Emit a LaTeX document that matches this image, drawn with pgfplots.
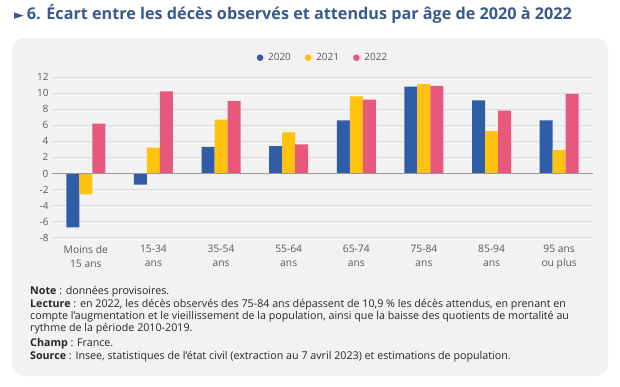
\documentclass[border=0pt]{standalone}
\usepackage{pgfplots}
\pgfplotsset{compat=1.18}
\usepackage{fontspec}
\setmainfont{Open Sans}
\newfontfamily\dejavu{DejaVu Sans}
\pgfdeclarelayer{background}
\pgfsetlayers{background,main}
\definecolor{c20}{HTML}{2F5DA8}
\definecolor{c21}{HTML}{FFC20E}
\definecolor{c22}{HTML}{E8587D}
\definecolor{titlec}{HTML}{3A5A8C}
\definecolor{panel}{HTML}{F2F2F2}
\definecolor{txt}{HTML}{595959}
\definecolor{gridc}{HTML}{DCDCDC}
\begin{document}
\begin{tikzpicture}
\begin{axis}[
  name=ax, at={(0,0)}, anchor=origin, scale only axis,
  width=541pt, height=160.7pt,
  xmin=-0.5, xmax=7.5, ymin=-8, ymax=12,
  ytick={-8,-6,...,12},
  xtick={0,...,7},
  xticklabels={{Moins de\\15 ans},{15-34\\ans},{35-54\\ans},{55-64\\ans},{65-74\\ans},{75-84\\ans},{85-94\\ans},{95 ans\\ou plus}},
  xticklabel style={align=center, font=\fontsize{10.3}{14}\selectfont, text=txt},
  yticklabel style={font=\fontsize{10}{12}\selectfont, text=txt},
  /pgf/number format/assume math mode=true,
  axis line style={draw=none},
  tick style={draw=none},
  ymajorgrids, grid style={gridc, line width=0.8pt},
  ybar=0pt, bar width=13pt,
  legend columns=3,
  legend style={draw=none, fill=none, at={(0.501,1.12)}, anchor=center,
    font=\fontsize{10}{12}\selectfont, text=txt,
    /tikz/every even column/.append style={column sep=12pt}},
  legend image code/.code={\path (-3.3pt,0pt) -- (6pt,0pt); \fill[#1,draw=none] (0pt,0pt) circle (3.3pt);},
]
\addplot[fill=c20, draw=none] coordinates {(0,-6.7) (1,-1.4) (2,3.3) (3,3.4) (4,6.6) (5,10.8) (6,9.1) (7,6.6)};
\addplot[fill=c21, draw=none] coordinates {(0,-2.6) (1,3.2) (2,6.7) (3,5.1) (4,9.6) (5,11.1) (6,5.3) (7,2.9)};
\addplot[fill=c22, draw=none] coordinates {(0,6.2) (1,10.2) (2,9.0) (3,3.6) (4,9.2) (5,10.9) (6,7.8) (7,9.9)};
\legend{2020,2021,2022}
\draw[gray!80, line width=0.9pt] (axis cs:-0.5,0) -- (axis cs:7.5,0);
\node[anchor=base west, font=\fontsize{10}{12}\selectfont, text=txt] at (rel axis cs:0.02,1.02) {en \%};
\coordinate (sw) at (rel axis cs:0,0);
\end{axis}
\begin{scope}[shift={(sw)}, shift={(-52pt,-148.3pt)}, x=1pt, y=1pt]
\begin{pgfonlayer}{background}
\fill[white] (0,0) rectangle (620,386);
\fill[panel, rounded corners=12pt] (12,10) rectangle (608,348);
\end{pgfonlayer}
\node[anchor=west, font=\fontsize{16.2}{19}\selectfont\bfseries, text=titlec, inner sep=0] at (14,372) {{\dejavu\fontsize{13}{15}\selectfont ►}\,6. Écart entre les décès observés et attendus par âge de 2020 à 2022};
\begin{scope}[every node/.style={anchor=base west, inner sep=0, font=\fontsize{10.7}{12}\selectfont, text=black!85}]
\node at (30,91.5) {\textbf{Note} : données provisoires.};
\node at (30,79) {\textbf{Lecture} : en 2022, les décès observés des 75-84 ans dépassent de 10,9 \% les décès attendus, en prenant en};
\node at (30,67) {compte l'augmentation et le vieillissement de la population, ainsi que la baisse des quotients de mortalité au};
\node at (30,55) {rythme de la période 2010-2019.};
\node at (30,40) {\textbf{Champ} : France.};
\node at (30,27) {\textbf{Source} : Insee, statistiques de l'état civil (extraction au 7 avril 2023) et estimations de population.};
\end{scope}
\end{scope}
\end{tikzpicture}
\end{document}
